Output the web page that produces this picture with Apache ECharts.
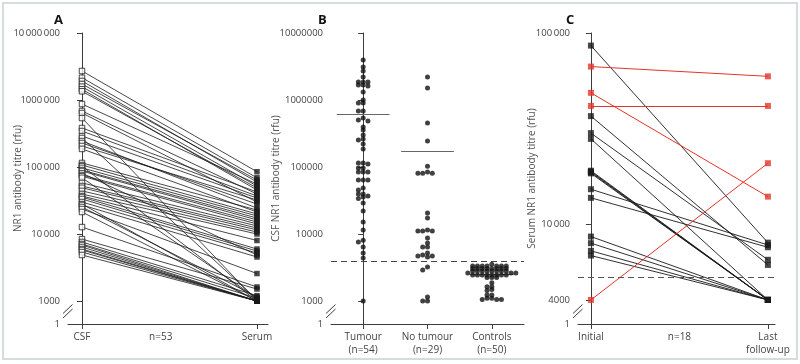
<!DOCTYPE html>
<html>
<head>
<meta charset="utf-8">
<script src="https://cdn.jsdelivr.net/npm/echarts@6/dist/echarts.min.js"></script>
<style>
  html, body { margin: 0; padding: 0; background: #fff; }
  #chart { width: 800px; height: 364px; }
</style>
</head>
<body>
<div id="chart"></div>
<script>
// A: paired CSF / serum titres (rfu), same patient at same index
const csfTitres = [2710000, 2150000, 1920000, 1730000, 1580000, 1445000, 1350000, 871000, 686000, 640000,
    538000, 382000, 344000, 290000, 271000, 244000, 228000, 206000, 186000, 115000,
    107000, 103000, 97000, 90000, 87000, 81000, 76000, 73000, 69000, 58000,
    52000, 49000, 44000, 39500, 36900, 35600, 33300, 30000, 28000, 27100,
    25300, 23600, 21300, 12700, 8400, 7600, 7100, 6850, 6400, 5970,
    5770, 5380, 4860];
const serumTitres = [85000, 69000, 59700, 64000, 52000, 45400, 48600, 55700, 39500, 30000,
    1000, 42400, 36900, 34400, 1050, 24400, 28000, 32100, 21300, 22800,
    19900, 1000, 18600, 17300, 16200, 4860, 15100, 14100, 1100, 13200,
    12300, 11500, 10700, 10000, 8000, 5970, 5570, 5200, 1000, 4540,
    1150, 2570, 1000, 1620, 1510, 1200, 1100, 1000, 1000, 1000,
    1000, 1000, 1000];
const xLabelsA = ['CSF', 'n=53', 'Serum'];

// B: CSF titres by group
const groupNames = ['Tumour\n(n=54)', 'No tumour\n(n=29)', 'Controls\n(n=50)'];
const tumourTitres = [3950000, 3110000, 2710000, 2200000, 1860000, 1860000, 1860000, 1670000, 1670000, 1620000,
    1320000, 1000000, 900000, 900000, 686000, 686000, 538000, 502000, 486000, 396000,
    356000, 300000, 262000, 253000, 220000, 186000, 115000, 115000, 111000, 97000,
    97000, 84000, 84000, 84000, 64000, 64000, 64000, 48600, 45400, 39500,
    39500, 36900, 35600, 34000, 29000, 22000, 15100, 11500, 8100, 7600,
    6400, 5200, 4380, 1000];
const noTumourTitres = [2200000, 1510000, 454000, 244000, 103000, 84000, 81000, 81000, 81000, 20600,
    17300, 11500, 11100, 11100, 11100, 8700, 7350, 6400, 6400, 5200,
    4860, 4700, 4700, 4540, 3210, 2900, 1150, 1000, 1000];
const controlTitres = [3530, 3330, 3330, 3330, 3330, 3330, 3330, 3330, 3050, 3050,
    3050, 3050, 3050, 3050, 3050, 3050, 2800, 2800, 2800, 2800,
    2800, 2800, 2800, 2800, 2620, 2620, 2620, 2440, 2440, 2440,
    2440, 2440, 2440, 2440, 2440, 2240, 2240, 2240, 1880, 1630,
    1630, 1490, 1430, 1230, 1230, 1100, 1100, 1050, 1050, 1050];
const csfCutoff = 4000;

// C: serum titres, initial vs last follow-up (last 4 = red)
const initialTitres = [85900, 36700, 29900, 27900, 19000, 18800, 18600, 18400, 15200, 13700,
    8590, 7930, 7230, 6830, 66700, 41500, 48600, 4000];
const lastTitres = [7980, 6100, 6490, 4000, 4000, 4000, 4000, 4000, 7760, 7550,
    4000, 4000, 4000, 4000, 59300, 41500, 13900, 20800];
const isRed = [false, false, false, false, false, false, false, false, false, false,
    false, false, false, false, true, true, true, true];
const serumCutoff = 5200;
const xLabelsC = ['Initial', 'n=18', 'Last\nfollow-up'];

// tick labels (first one sits on the broken part of the axis)
const yTicksAB = [1, 1000, 10000, 100000, 1000000, 10000000];
const yLabelsA = ['1', '1000', '10\u2009000', '100\u2009000', '1000\u2009000', '10\u2009000\u2009000'];
const yLabelsB = ['1', '1000', '10000', '100000', '1000000', '10000000'];
const yTicksC = [1, 4000, 10000, 100000];
const yLabelsC = ['1', '4000', '10\u2009000', '100\u2009000'];

const lg = Math.log10;
const minAB = 2.657, maxAB = 7;
const minC = 3.476, maxC = 5;
const BLACK = '#1a1a1a', RED = '#e5332a', GREY = '#3c3c3c';
const FONT = 'Open Sans';

function tickPos(ticks, min) {
    return ticks.map(v => v === 1 ? min : lg(v));
}
function labelFor(ticks, labels, min) {
    const pos = tickPos(ticks, min);
    return v => {
        const i = pos.findIndex(p => Math.abs(p - v) < 1e-6);
        return i < 0 ? '' : labels[i];
    };
}

// column scatter layout: spread dots sideways when they overlap
function swarm(values, center, minGap) {
    const pxPerDecade = 67, stepPx = 4.8, unitPx = 193 / 3;
    const placed = [], out = [];
    values.map(lg).sort((a, b) => b - a).forEach(lv => {
        const y = lv * pxPerDecade;
        for (let k = 0; k < 30; k++) {
            const slot = k === 0 ? 0 : (k % 2 ? -Math.ceil(k / 2) : k / 2);
            if (!placed.some(p => p.slot === slot && Math.abs(p.y - y) < minGap)) {
                placed.push({ slot, y });
                out.push([center + slot * stepPx / unitPx, lv]);
                break;
            }
        }
    });
    return out;
}

const groups = [tumourTitres, noTumourTitres, controlTitres];
const groupMeans = groups.map(g => g.reduce((a, b) => a + b, 0) / g.length);
const meanHalf = [0.41, 0.41, 0.34];
const swarmGap = [3.0, 3.0, 2.2];

function yAxisOf(idx, min, max, ticks, labels, name, gap) {
    const pos = tickPos(ticks, min);
    return {
        type: 'value', gridIndex: idx, min: min, max: max,
        name: name, nameLocation: 'middle', nameGap: gap, nameRotate: 90, nameMoveOverlap: false,
        nameTextStyle: { fontFamily: FONT, fontSize: 10, color: '#555' },
        axisLine: { show: true, lineStyle: { color: GREY, width: 1 } },
        axisTick: { show: true, length: 5, customValues: pos, lineStyle: { color: GREY } },
        axisLabel: { customValues: pos, margin: 8, fontFamily: FONT, fontSize: 9.5, color: '#444',
            formatter: labelFor(ticks, labels, min) },
        splitLine: { show: false }
    };
}
function xAxisOf(idx, min, max, labelPos, tickVals, labels) {
    return {
        type: 'value', gridIndex: idx, min: min, max: max,
        axisLine: { show: true, onZero: false, lineStyle: { color: GREY, width: 1 } },
        axisTick: { show: true, length: 5, customValues: tickVals, lineStyle: { color: GREY } },
        axisLabel: { customValues: labelPos, margin: 7, fontFamily: FONT, fontSize: 10, color: '#444',
            lineHeight: 13,
            formatter: v => { const i = labelPos.findIndex(p => Math.abs(p - v) < 1e-6); return i < 0 ? '' : labels[i]; } },
        splitLine: { show: false }
    };
}

function breakMark(x) {
    return [
        { type: 'polygon', z: 100, shape: { points: [[x - 5, 313.5], [x + 4.5, 304.5], [x + 4.5, 309], [x - 5, 318]] },
          style: { fill: '#fff' } },
        { type: 'line', z: 101, shape: { x1: x - 5, y1: 313.5, x2: x + 4.5, y2: 304.5 }, style: { stroke: GREY, lineWidth: 1 } },
        { type: 'line', z: 101, shape: { x1: x - 5, y1: 318, x2: x + 4.5, y2: 309 }, style: { stroke: GREY, lineWidth: 1 } }
    ];
}

const series = [
    // A
    {
        type: 'lines', coordinateSystem: 'cartesian2d', xAxisIndex: 0, yAxisIndex: 0, silent: true, z: 2,
        lineStyle: { color: BLACK, width: 0.8, opacity: 1 },
        data: csfTitres.map((c, i) => ({ coords: [[0, lg(c)], [1, lg(serumTitres[i])]] }))
    },
    {
        type: 'scatter', xAxisIndex: 0, yAxisIndex: 0, symbol: 'rect', symbolSize: 5.5, z: 3,
        itemStyle: { color: '#fff', borderColor: BLACK, borderWidth: 1 },
        data: csfTitres.map(c => [0, lg(c)])
    },
    {
        type: 'scatter', xAxisIndex: 0, yAxisIndex: 0, symbol: 'rect', symbolSize: 5.5, z: 3,
        itemStyle: { color: BLACK },
        data: serumTitres.map(s => [1, lg(s)])
    },
    // B
    ...groups.map((g, gi) => ({
        type: 'scatter', xAxisIndex: 1, yAxisIndex: 1, symbol: 'circle', symbolSize: 5, z: 3,
        itemStyle: { color: '#111' },
        data: swarm(g, gi, swarmGap[gi]),
        markLine: gi === 0 ? {
            silent: true, symbol: 'none', label: { show: false },
            lineStyle: { color: '#444', width: 1.1, type: [6, 4] },
            data: [{ yAxis: lg(csfCutoff) }]
        } : undefined
    })),
    {
        type: 'lines', coordinateSystem: 'cartesian2d', xAxisIndex: 1, yAxisIndex: 1, silent: true, z: 2,
        lineStyle: { color: '#666', width: 1.2, opacity: 1 },
        data: groupMeans.map((m, gi) => ({ coords: [[gi - meanHalf[gi], lg(m)], [gi + meanHalf[gi], lg(m)]] }))
    },
    // C
    {
        type: 'lines', coordinateSystem: 'cartesian2d', xAxisIndex: 2, yAxisIndex: 2, silent: true, z: 2,
        data: initialTitres.map((v, i) => ({
            coords: [[0, lg(v)], [1, lg(lastTitres[i])]],
            lineStyle: { color: isRed[i] ? RED : BLACK, width: isRed[i] ? 1 : 0.9, opacity: 1 }
        })),
        markLine: {
            silent: true, symbol: 'none', label: { show: false },
            lineStyle: { color: '#555', width: 1.1, type: [6, 4] },
            data: [{ yAxis: lg(serumCutoff) }]
        }
    },
    {
        type: 'scatter', xAxisIndex: 2, yAxisIndex: 2, symbol: 'rect', symbolSize: 6, z: 3,
        data: initialTitres.map((v, i) => ({ value: [0, lg(v)], itemStyle: { color: isRed[i] ? RED : BLACK } }))
            .concat(lastTitres.map((v, i) => ({ value: [1, lg(v)], itemStyle: { color: isRed[i] ? RED : BLACK } })))
    }
];

const chart = echarts.init(document.getElementById('chart'));
chart.setOption({
    animation: false,
    backgroundColor: '#fff',
    title: [
        { text: 'A', left: 49, top: 9, textStyle: { fontFamily: FONT, fontSize: 13, fontWeight: 'bold', color: '#111' } },
        { text: 'B', left: 313, top: 9, textStyle: { fontFamily: FONT, fontSize: 13, fontWeight: 'bold', color: '#111' } },
        { text: 'C', left: 561, top: 9, textStyle: { fontFamily: FONT, fontSize: 13, fontWeight: 'bold', color: '#111' } }
    ],
    grid: [
        { left: 68, top: 33, width: 200, height: 291, outerBoundsMode: 'none' },
        { left: 331, top: 33, width: 193, height: 291, outerBoundsMode: 'none' },
        { left: 578, top: 33, width: 197, height: 291, outerBoundsMode: 'none' }
    ],
    xAxis: [
        xAxisOf(0, -0.08, 1.063, [0, 0.45, 1], [0, 1], xLabelsA),
        xAxisOf(1, -0.5, 2.5, [0, 1, 2], [0, 1, 2], groupNames),
        xAxisOf(2, -0.073, 1.04, [0, 0.5, 1], [0, 1], xLabelsC)
    ],
    yAxis: [
        yAxisOf(0, minAB, maxAB, yTicksAB, yLabelsA, 'NR1 antibody titre (rfu)', 45),
        yAxisOf(1, minAB, maxAB, yTicksAB, yLabelsB, 'CSF NR1 antibody titre (rfu)', 50),
        yAxisOf(2, minC, maxC, yTicksC, yLabelsC, 'Serum NR1 antibody titre (rfu)', 41)
    ],
    series: series,
    graphic: [
        { type: 'rect', z: 0, shape: { x: 3, y: 3, width: 794, height: 356 },
          style: { fill: 'none', stroke: '#d6dcdc', lineWidth: 2 } },
        ...breakMark(68), ...breakMark(331), ...breakMark(578)
    ]
});
</script>
</body>
</html>
